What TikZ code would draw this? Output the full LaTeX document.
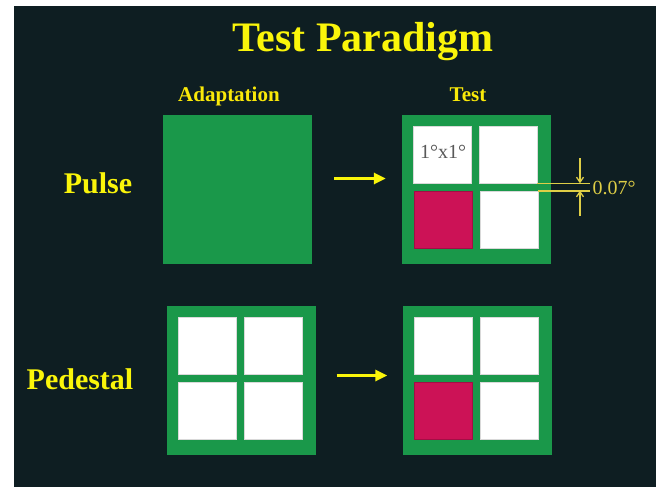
\documentclass[tikz,border=0pt]{standalone}
\usepackage{fontspec}
\setmainfont{Liberation Serif}
\usetikzlibrary{arrows.meta,positioning,calc}
\definecolor{slidebg}{RGB}{14,30,34}
\definecolor{stimgreen}{RGB}{26,152,74}
\definecolor{probered}{RGB}{204,18,86}
\definecolor{titleyel}{RGB}{250,245,10}
\definecolor{dimyel}{RGB}{222,206,70}
\tikzset{
  greenbox/.style={fill=stimgreen, minimum size=149pt, inner sep=0pt},
  patch/.style={fill=white, draw=black!15, line width=0.6pt, minimum width=58pt, minimum height=57pt, inner sep=0pt},
  probe/.style={patch, fill=probered, draw=probered!80!black},
  ttl/.style={text=titleyel, font=\fontsize{42}{46}\selectfont\bfseries, anchor=base},
  rowlab/.style={text=titleyel, font=\fontsize{30}{34}\selectfont\bfseries, anchor=base},
  collab/.style={text=titleyel!90!orange, font=\fontsize{21}{24}\selectfont\bfseries, anchor=base},
  movearr/.style={-{Triangle[length=12pt,width=11pt]}, titleyel, line width=3pt},
  dimline/.style={dimyel, line width=1.6pt},
  dimarr/.style={-{Straight Barb[length=5pt,width=7pt]}, dimyel, line width=1.3pt},
  dimlab/.style={text=dimyel, font=\fontsize{20}{24}\selectfont, anchor=base west},
}
\begin{document}
\begin{tikzpicture}[x=1pt,y=-1pt]
  \fill[white] (0,0) rectangle (656,487);
  \fill[slidebg] (14,6) rectangle (656,487);
  % headings
  \node[ttl] (title) at (363,52) {Test Paradigm};
  \node[collab] (hadapt) at (229,102) {Adaptation};
  \node[collab] (htest) at (468,102) {Test};
  \node[rowlab] (pulse) at (98,193) {Pulse};
  \node[rowlab] (pedestal) at (80,389) {Pedestal};
  % pulse row
  \node[greenbox] (adapt1) at (237.5,189.5) {};
  \node[greenbox] (test1) at (476.5,189.5) {};
  \node[patch] (tl1) at (442,154.5) {};
  \node[patch] (tr1) at (508,154.5) {};
  \node[probe] (bl1) at (443,219.5) {};
  \node[patch] (br1) at (509,219.5) {};
  \node[text=black!65, font=\fontsize{20}{24}\selectfont, anchor=base] (size1) at (443,158) {1°x1°};
  \draw[movearr] ([xshift=22pt,yshift=11pt]adapt1.east) -- ([xshift=-16pt,yshift=11pt]test1.west);
  % gap dimension
  \coordinate (dimend) at (590,0);
  \coordinate (dimx) at (580,0);
  \draw[dimline] (tr1.south east) -- (tr1.south east -| dimend);
  \draw[dimline] (br1.north east) -- (br1.north east -| dimend);
  \coordinate (gapup) at (tr1.south east -| dimx);
  \coordinate (gapdn) at (br1.north east -| dimx);
  \draw[dimarr] ([yshift=25pt]gapup) -- (gapup);
  \draw[dimarr] ([yshift=-25pt]gapdn) -- (gapdn);
  \node[dimlab] (gaplab) at (589,194) {0.07°};
  % pedestal row
  \node[greenbox] (adapt2) at (241,380.5) {};
  \node[greenbox] (test2) at (477,380.5) {};
  \node[patch] (tl2) at (207,345.5) {};
  \node[patch] (tr2) at (273,345.5) {};
  \node[patch] (bl2) at (207,410.5) {};
  \node[patch] (br2) at (273,410.5) {};
  \node[patch] (tl3) at (443,345.5) {};
  \node[patch] (tr3) at (509,345.5) {};
  \node[probe] (bl3) at (443,410.5) {};
  \node[patch] (br3) at (509,410.5) {};
  \draw[movearr] ([xshift=21pt,yshift=5pt]adapt2.east) -- ([xshift=-15pt,yshift=5pt]test2.west);
\end{tikzpicture}
\end{document}
